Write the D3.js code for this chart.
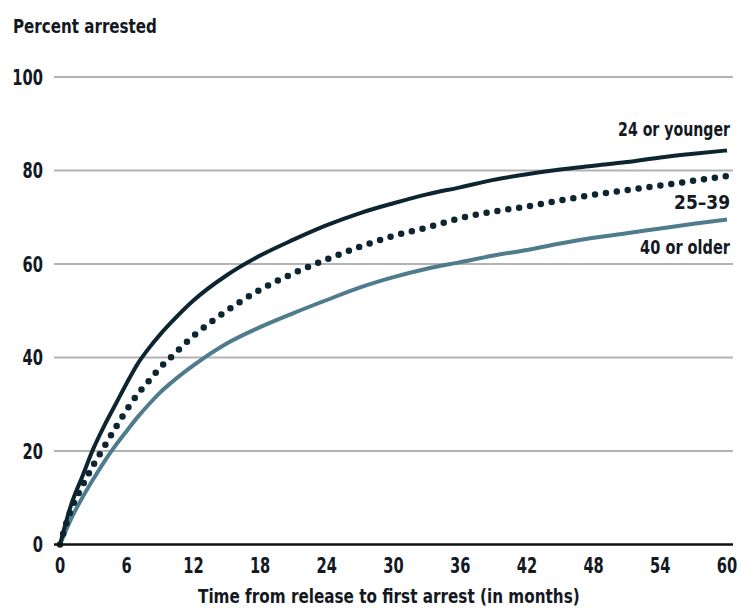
<!DOCTYPE html>
<html lang="en">
<head>
  <meta charset="UTF-8">
  <title>Percent arrested by age</title>
  <script src="https://d3js.org/d3.v7.min.js"></script>
  <style>
    body { margin: 0; background: #fff; }
    text { font-family: "DejaVu Sans", sans-serif; font-weight: bold; fill: #14181f; }
  </style>
</head>
<body>
  <svg id="chart"></svg>
  <script>
    // months since release
    const months = [0, 1, 2, 3, 4, 5, 6, 7, 8, 9, 10, 12, 15, 18, 21, 24, 27, 30, 33, 36, 39, 42, 45, 48, 51, 54, 57, 60];
    const young = [0, 8.5, 14.5, 20.5, 25.5, 30, 34.5, 38.7, 42, 44.9, 47.5, 52.2, 57.6, 61.8, 65.2, 68.3, 70.9, 73.0, 74.9, 76.4, 78.0, 79.2, 80.2, 81.0, 81.8, 82.8, 83.6, 84.3];
    const middle = [0, 7.5, 12.5, 17, 21, 25, 28.8, 32.2, 35, 37.8, 40.1, 44.6, 50.0, 54.5, 58, 61, 63.7, 66, 67.8, 69.8, 71.2, 72.3, 73.6, 74.8, 75.8, 76.8, 77.8, 78.8];
    const older = [0, 5.5, 10, 14, 17.8, 21.2, 24.3, 27.3, 30, 32.5, 34.6, 38.3, 43.0, 46.5, 49.5, 52.3, 55, 57.2, 59.0, 60.4, 61.8, 63.0, 64.4, 65.6, 66.6, 67.6, 68.6, 69.5];
    const seriesNames = ["24 or younger", "25\u201339", "40 or older"];
    const xTicks = [0, 6, 12, 18, 24, 30, 36, 42, 48, 54, 60];
    const yTicks = [0, 20, 40, 60, 80, 100];

    const width = 742, height = 609;
    const margin = { top: 77, right: 15, bottom: 65, left: 60 };
    const squeeze = 0.7; // narrow digits like the condensed original

    const svg = d3.select("#chart")
      .attr("width", width)
      .attr("height", height);

    const x = d3.scaleLinear()
      .domain([0, 60])
      .range([margin.left, 727]);

    const y = d3.scaleLinear()
      .domain([0, 100])
      .range([544.5, margin.top]);

    // squeeze a text horizontally so it spans `w` pixels
    function fitWidth(sel, px, py, w) {
      const len = sel.node().getComputedTextLength();
      sel.attr("transform", `translate(${px},${py}) scale(${w / len},1)`);
    }

    // gridlines
    svg.append("g")
      .selectAll("line")
      .data(yTicks.filter(d => d > 0))
      .enter()
      .append("line")
      .attr("x1", 54)
      .attr("x2", 733)
      .attr("y1", d => y(d))
      .attr("y2", d => y(d))
      .attr("stroke", "#b3b3b3")
      .attr("stroke-width", 2);

    // y tick labels
    svg.append("g")
      .selectAll("text")
      .data(yTicks)
      .enter()
      .append("text")
      .attr("transform", d => `translate(43,${y(d) + 7.5}) scale(${squeeze},1)`)
      .attr("text-anchor", "end")
      .attr("font-size", 21)
      .text(d => d);

    // x tick labels
    svg.append("g")
      .selectAll("text")
      .data(xTicks)
      .enter()
      .append("text")
      .attr("transform", d => `translate(${x(d)},573) scale(${squeeze},1)`)
      .attr("text-anchor", "middle")
      .attr("font-size", 21)
      .text(d => d);

    const line = d3.line()
      .x((d, i) => x(months[i]))
      .y(d => y(d))
      .curve(d3.curveMonotoneX);

    svg.append("path")
      .datum(older)
      .attr("d", line)
      .attr("fill", "none")
      .attr("stroke", "#4f7c8c")
      .attr("stroke-width", 4);

    svg.append("path")
      .datum(middle)
      .attr("d", line)
      .attr("fill", "none")
      .attr("stroke", "#0d2530")
      .attr("stroke-width", 6.5)
      .attr("stroke-linecap", "round")
      .attr("stroke-dasharray", "0 11");

    svg.append("path")
      .datum(young)
      .attr("d", line)
      .attr("fill", "none")
      .attr("stroke", "#0d2530")
      .attr("stroke-width", 4);

    // baseline
    svg.append("line")
      .attr("x1", 54)
      .attr("x2", 733)
      .attr("y1", y(0))
      .attr("y2", y(0))
      .attr("stroke", "#111")
      .attr("stroke-width", 2.5);

    // series labels, right aligned at the end of the lines
    const labelY = [136, 209, 254];
    const labelW = [112, 56, 90];
    seriesNames.forEach((name, i) => {
      const t = svg.append("text")
        .attr("text-anchor", "end")
        .attr("font-size", 20)
        .text(name);
      fitWidth(t, 730, labelY[i], labelW[i]);
    });

    const title = svg.append("text")
      .attr("font-size", 20)
      .text("Percent arrested");
    fitWidth(title, 13, 33, 144);

    const xTitle = svg.append("text")
      .attr("font-size", 20)
      .text("Time from release to first arrest (in months)");
    fitWidth(xTitle, 198, 603, 382);
  </script>
</body>
</html>
